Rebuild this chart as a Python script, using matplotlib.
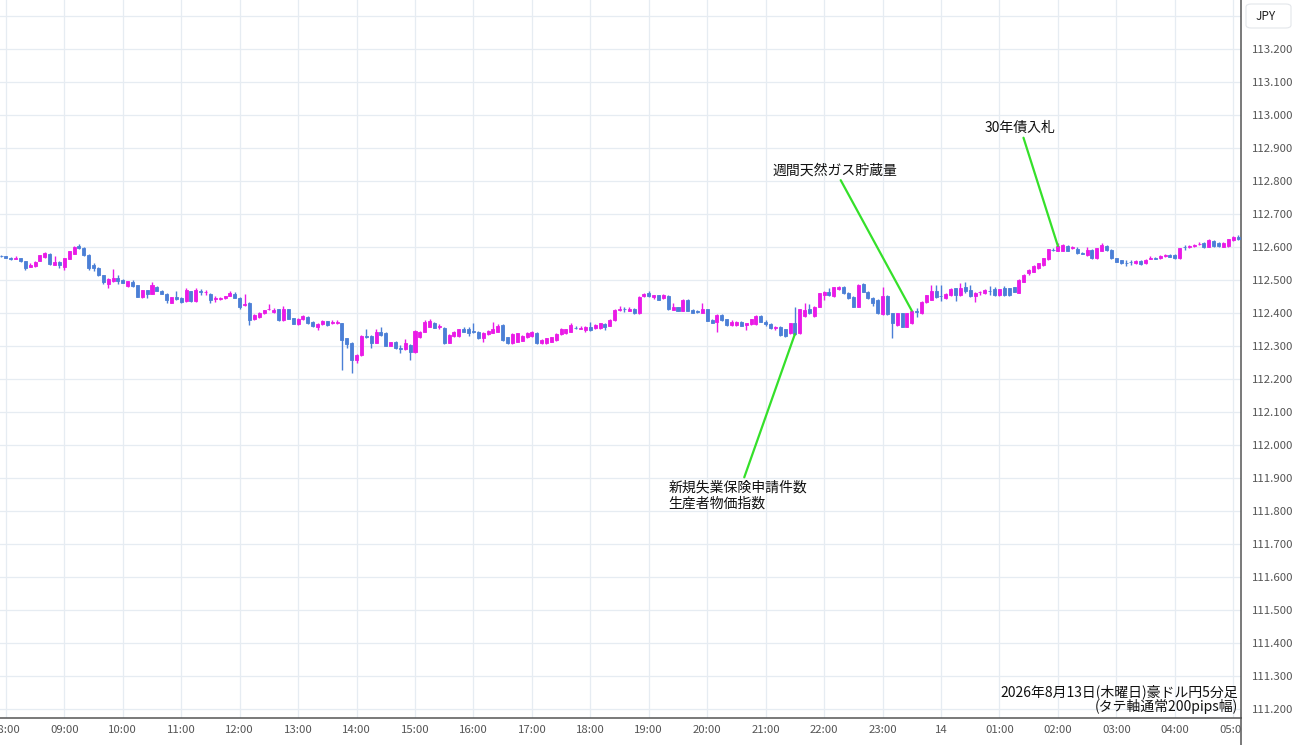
import matplotlib
matplotlib.use("Agg")
import matplotlib.pyplot as plt
from matplotlib.patches import FancyBboxPatch, Rectangle
from matplotlib.lines import Line2D
import pandas as pd

plt.rcParams['font.family'] = ['Noto Sans CJK JP', 'DejaVu Sans']

# AUD/JPY 5 min candles, 2026-08-13 07:55 -> 08-14 05:05
opens = [
    112.574,
    112.572, 112.568, 112.564, 112.566, 112.557, 112.540, 112.541, 112.559, 112.569, 112.580, 112.545, 112.555,  # 08
    112.540, 112.565, 112.580, 112.603, 112.597, 112.577, 112.545, 112.537, 112.514, 112.489, 112.497, 112.506,  # 09
    112.501, 112.482, 112.494, 112.484, 112.448, 112.469, 112.459, 112.479, 112.468, 112.459, 112.431, 112.448,  # 10
    112.445, 112.436, 112.466, 112.436, 112.466, 112.464, 112.459, 112.441, 112.441, 112.444, 112.452, 112.459,  # 11
    112.445, 112.423, 112.430, 112.381, 112.388, 112.400, 112.411, 112.403, 112.411, 112.379, 112.411, 112.384,  # 12
    112.367, 112.381, 112.389, 112.374, 112.357, 112.367, 112.375, 112.369, 112.369, 112.369, 112.323, 112.310,  # 13
    112.258, 112.273, 112.331, 112.330, 112.310, 112.343, 112.340, 112.301, 112.313, 112.295, 112.290, 112.303,  # 14
    112.281, 112.328, 112.343, 112.359, 112.371, 112.359, 112.356, 112.310, 112.330, 112.330, 112.350, 112.350,  # 15
    112.344, 112.342, 112.323, 112.336, 112.340, 112.343, 112.364, 112.326, 112.308, 112.313, 112.316, 112.326,  # 16
    112.330, 112.340, 112.308, 112.308, 112.313, 112.318, 112.336, 112.338, 112.343, 112.356, 112.352, 112.348,  # 17
    112.359, 112.354, 112.354, 112.367, 112.362, 112.379, 112.410, 112.412, 112.407, 112.413, 112.399, 112.450,  # 18
    112.460, 112.447, 112.454, 112.445, 112.452, 112.410, 112.417, 112.407, 112.439, 112.409, 112.405, 112.401,  # 19
    112.411, 112.379, 112.374, 112.394, 112.381, 112.364, 112.364, 112.372, 112.364, 112.367, 112.367, 112.391,  # 20
    112.374, 112.367, 112.354, 112.359, 112.350, 112.338, 112.369, 112.338, 112.391, 112.411, 112.391, 112.419,  # 21
    112.455, 112.465, 112.450, 112.472, 112.480, 112.462, 112.449, 112.419, 112.488, 112.465, 112.444, 112.440,  # 22
    112.397, 112.452, 112.399, 112.364, 112.399, 112.359, 112.369, 112.405, 112.400, 112.434, 112.440, 112.468,  # 23
    112.452, 112.444, 112.455, 112.475, 112.455, 112.480, 112.470, 112.450, 112.463, 112.460, 112.468, 112.472,  # 00
    112.455, 112.475, 112.475, 112.478, 112.462, 112.495, 112.520, 112.525, 112.535, 112.545, 112.563, 112.592,  # 01
    112.589, 112.589, 112.603, 112.598, 112.593, 112.582, 112.576, 112.591, 112.566, 112.589, 112.603, 112.591,  # 02
    112.566, 112.560, 112.553, 112.556, 112.550, 112.558, 112.550, 112.565, 112.567, 112.566, 112.573, 112.576,  # 03
    112.576, 112.566, 112.601, 112.599, 112.603, 112.608, 112.613, 112.601, 112.619, 112.613, 112.601, 112.603,  # 04
    112.621, 112.630,
]
highs = [
    112.575,
    112.574, 112.570, 112.572, 112.568, 112.558, 112.551, 112.557, 112.577, 112.585, 112.582, 112.573, 112.557,
    112.568, 112.589, 112.603, 112.608, 112.599, 112.579, 112.550, 112.539, 112.516, 112.506, 112.532, 112.514,
    112.503, 112.498, 112.500, 112.486, 112.470, 112.471, 112.494, 112.481, 112.470, 112.460, 112.449, 112.466,
    112.447, 112.476, 112.468, 112.476, 112.472, 112.470, 112.461, 112.453, 112.448, 112.452, 112.466, 112.464,
    112.447, 112.458, 112.432, 112.397, 112.402, 112.410, 112.428, 112.414, 112.413, 112.421, 112.413, 112.386,
    112.385, 112.395, 112.391, 112.376, 112.369, 112.379, 112.377, 112.380, 112.380, 112.371, 112.325, 112.312,
    112.275, 112.332, 112.350, 112.332, 112.350, 112.357, 112.342, 112.313, 112.315, 112.303, 112.320, 112.305,
    112.348, 112.345, 112.379, 112.381, 112.373, 112.366, 112.358, 112.335, 112.345, 112.352, 112.359, 112.359,
    112.371, 112.344, 112.342, 112.348, 112.374, 112.366, 112.366, 112.328, 112.338, 112.340, 112.332, 112.342,
    112.345, 112.342, 112.320, 112.325, 112.328, 112.338, 112.355, 112.352, 112.369, 112.360, 112.360, 112.361,
    112.374, 112.366, 112.371, 112.369, 112.381, 112.411, 112.421, 112.419, 112.419, 112.415, 112.451, 112.460,
    112.467, 112.456, 112.456, 112.457, 112.454, 112.431, 112.419, 112.441, 112.441, 112.411, 112.409, 112.429,
    112.413, 112.381, 112.396, 112.396, 112.383, 112.379, 112.376, 112.377, 112.371, 112.383, 112.393, 112.393,
    112.380, 112.369, 112.361, 112.361, 112.352, 112.371, 112.419, 112.413, 112.429, 112.427, 112.421, 112.462,
    112.467, 112.475, 112.480, 112.482, 112.482, 112.464, 112.451, 112.487, 112.490, 112.467, 112.449, 112.442,
    112.480, 112.454, 112.401, 112.401, 112.401, 112.401, 112.409, 112.414, 112.436, 112.456, 112.485, 112.485,
    112.485, 112.461, 112.475, 112.477, 112.490, 112.495, 112.485, 112.464, 112.468, 112.472, 112.481, 112.480,
    112.474, 112.482, 112.477, 112.480, 112.502, 112.517, 112.532, 112.544, 112.552, 112.568, 112.595, 112.597,
    112.611, 112.608, 112.606, 112.603, 112.599, 112.584, 112.599, 112.593, 112.598, 112.611, 112.605, 112.593,
    112.568, 112.562, 112.560, 112.560, 112.560, 112.560, 112.565, 112.573, 112.569, 112.575, 112.578, 112.578,
    112.578, 112.598, 112.607, 112.605, 112.608, 112.614, 112.615, 112.623, 112.621, 112.615, 112.615, 112.625,
    112.633, 112.636,
]
lows = [
    112.571,
    112.566, 112.561, 112.563, 112.555, 112.531, 112.539, 112.539, 112.557, 112.567, 112.546, 112.544, 112.537,
    112.530, 112.563, 112.579, 112.593, 112.574, 112.530, 112.526, 112.512, 112.489, 112.477, 112.495, 112.489,
    112.490, 112.480, 112.480, 112.447, 112.446, 112.445, 112.457, 112.466, 112.457, 112.430, 112.429, 112.439,
    112.431, 112.434, 112.434, 112.434, 112.456, 112.456, 112.431, 112.434, 112.439, 112.442, 112.450, 112.444,
    112.411, 112.421, 112.363, 112.379, 112.386, 112.398, 112.409, 112.401, 112.377, 112.377, 112.381, 112.366,
    112.365, 112.379, 112.366, 112.359, 112.348, 112.365, 112.362, 112.367, 112.367, 112.227, 112.293, 112.219,
    112.247, 112.271, 112.325, 112.293, 112.308, 112.331, 112.299, 112.299, 112.291, 112.280, 112.288, 112.258,
    112.279, 112.323, 112.341, 112.357, 112.354, 112.350, 112.306, 112.308, 112.328, 112.328, 112.341, 112.329,
    112.339, 112.321, 112.313, 112.334, 112.338, 112.341, 112.316, 112.306, 112.306, 112.311, 112.314, 112.324,
    112.328, 112.306, 112.306, 112.306, 112.311, 112.316, 112.334, 112.336, 112.341, 112.352, 112.350, 112.343,
    112.346, 112.352, 112.352, 112.348, 112.360, 112.377, 112.405, 112.404, 112.405, 112.397, 112.397, 112.448,
    112.448, 112.441, 112.438, 112.443, 112.409, 112.408, 112.405, 112.405, 112.405, 112.399, 112.400, 112.399,
    112.375, 112.369, 112.341, 112.377, 112.362, 112.362, 112.362, 112.360, 112.348, 112.365, 112.365, 112.372,
    112.360, 112.352, 112.348, 112.331, 112.328, 112.336, 112.334, 112.336, 112.389, 112.397, 112.389, 112.417,
    112.440, 112.453, 112.448, 112.470, 112.458, 112.442, 112.417, 112.417, 112.463, 112.442, 112.421, 112.397,
    112.395, 112.395, 112.323, 112.362, 112.357, 112.357, 112.367, 112.387, 112.398, 112.429, 112.438, 112.445,
    112.437, 112.442, 112.453, 112.437, 112.453, 112.460, 112.448, 112.434, 112.455, 112.458, 112.456, 112.453,
    112.453, 112.453, 112.453, 112.463, 112.460, 112.493, 112.515, 112.523, 112.533, 112.543, 112.561, 112.587,
    112.587, 112.587, 112.587, 112.593, 112.579, 112.578, 112.574, 112.564, 112.564, 112.587, 112.589, 112.564,
    112.554, 112.548, 112.542, 112.545, 112.548, 112.546, 112.548, 112.563, 112.563, 112.564, 112.571, 112.569,
    112.564, 112.564, 112.592, 112.597, 112.601, 112.606, 112.597, 112.599, 112.601, 112.601, 112.599, 112.601,
    112.619, 112.621,
]
closes = [
    112.572,
    112.568, 112.563, 112.566, 112.557, 112.537, 112.545, 112.555, 112.575, 112.581, 112.547, 112.554, 112.545,
    112.567, 112.587, 112.600, 112.598, 112.575, 112.537, 112.535, 112.514, 112.494, 112.504, 112.506, 112.497,
    112.492, 112.496, 112.482, 112.448, 112.469, 112.459, 112.486, 112.467, 112.459, 112.438, 112.448, 112.441,
    112.433, 112.469, 112.436, 112.469, 112.465, 112.465, 112.438, 112.446, 112.446, 112.451, 112.460, 112.446,
    112.418, 112.427, 112.378, 112.395, 112.400, 112.408, 112.413, 112.410, 112.379, 112.411, 112.383, 112.368,
    112.383, 112.391, 112.369, 112.361, 112.367, 112.377, 112.364, 112.373, 112.374, 112.318, 112.306, 112.258,
    112.273, 112.330, 112.327, 112.310, 112.343, 112.333, 112.301, 112.311, 112.293, 112.291, 112.308, 112.283,
    112.346, 112.343, 112.374, 112.377, 112.356, 112.361, 112.308, 112.333, 112.343, 112.350, 112.343, 112.338,
    112.342, 112.323, 112.340, 112.346, 112.353, 112.361, 112.318, 112.308, 112.336, 112.338, 112.330, 112.340,
    112.343, 112.308, 112.318, 112.323, 112.326, 112.336, 112.350, 112.350, 112.364, 112.355, 112.354, 112.359,
    112.348, 112.364, 112.369, 112.357, 112.379, 112.409, 112.412, 112.411, 112.411, 112.399, 112.449, 112.458,
    112.452, 112.454, 112.440, 112.455, 112.411, 112.417, 112.407, 112.439, 112.407, 112.401, 112.403, 112.411,
    112.377, 112.371, 112.394, 112.379, 112.364, 112.374, 112.374, 112.362, 112.369, 112.381, 112.391, 112.374,
    112.367, 112.354, 112.359, 112.333, 112.330, 112.369, 112.336, 112.411, 112.409, 112.399, 112.419, 112.460,
    112.465, 112.455, 112.478, 112.478, 112.460, 112.444, 112.419, 112.485, 112.465, 112.444, 112.429, 112.399,
    112.452, 112.397, 112.369, 112.399, 112.359, 112.399, 112.407, 112.403, 112.434, 112.454, 112.468, 112.448,
    112.450, 112.459, 112.473, 112.455, 112.475, 112.468, 112.450, 112.462, 112.465, 112.470, 112.466, 112.455,
    112.472, 112.455, 112.455, 112.465, 112.500, 112.515, 112.530, 112.542, 112.550, 112.566, 112.593, 112.591,
    112.603, 112.606, 112.589, 112.600, 112.581, 112.580, 112.591, 112.566, 112.596, 112.606, 112.591, 112.566,
    112.556, 112.550, 112.551, 112.555, 112.558, 112.548, 112.562, 112.567, 112.565, 112.573, 112.576, 112.571,
    112.566, 112.596, 112.599, 112.603, 112.606, 112.610, 112.599, 112.621, 112.603, 112.603, 112.613, 112.623,
    112.631, 112.623,
]

# economic events (candle time, label)
event_times = ['21:30', '23:30', '02:00']
event_labels = ['新規失業保険申請件数\n生産者物価指数', '週間天然ガス貯蔵量', '30年債入札']
event_offsets = [(-41, -116), (-55, 101), (-27, 85)]   # text offset in points

title_lines = ['2026年8月13日(木曜日)豪ドル円5分足', '(タテ軸通常200pips幅)']

UP = '#ea1ae6'
DOWN = '#4b7fd6'
GREEN = '#35e02a'
GRID = '#e6ecf2'
W, H = 1300, 745

times = pd.date_range('2026-08-13 07:55', periods=len(closes), freq='5min')
x = list(range(len(closes)))
cols = [UP if c >= o else DOWN for o, c in zip(opens, closes)]

fig = plt.figure(figsize=(W / 100, H / 100), dpi=100)
ax = fig.add_axes([0, 27 / H, 1241 / W, 718 / H])

ax.vlines(x, lows, highs, colors=cols, lw=1.0, zorder=2)
ax.bar(x, [c - o for o, c in zip(opens, closes)], bottom=opens, width=0.62,
       color=cols, edgecolor=cols, linewidth=0.6, zorder=3)

# axes
ax.set_xlim(-0.21, 254.6)
ax.set_ylim(111.1727, 113.3485)
yt = [round(111.2 + 0.1 * k, 1) for k in range(22)]
ax.set_yticks(yt)
ax.set_yticklabels(['' if v > 113.25 else f'{v:.3f}' for v in yt])
hour_idx = [i for i, t in enumerate(times) if t.minute == 0]
ax.set_xticks(hour_idx)
ax.set_xticklabels([str(times[i].day) if times[i].hour == 0 else times[i].strftime('%H:%M')
                    for i in hour_idx])
ax.yaxis.tick_right()
ax.tick_params(axis='y', length=0, pad=8, labelsize=8.2, labelcolor='#555555')
ax.tick_params(axis='x', length=0, pad=5, labelsize=8.2, labelcolor='#555555')
ax.grid(True, color=GRID, lw=0.9, zorder=0)
ax.set_axisbelow(True)
for s in ['top', 'left']:
    ax.spines[s].set_visible(False)
for s in ['right', 'bottom']:
    ax.spines[s].set_color('#555555')
    ax.spines[s].set_linewidth(1.1)

# event annotations
for t, lab, off in zip(event_times, event_labels, event_offsets):
    i = [k for k, tt in enumerate(times) if tt.strftime('%H:%M') == t][0]
    ax.annotate(lab, xy=(i, closes[i]), xytext=off, textcoords='offset points',
                ha='center', va='center', multialignment='left', fontsize=10, color='#111111',
                arrowprops=dict(arrowstyle='-', color=GREEN, lw=1.6, shrinkA=0, shrinkB=0),
                zorder=5)

# bottom-right caption
fig.text(1238 / W, 1 - 692 / H, title_lines[0], ha='right', va='center', fontsize=10, color='#111111')
fig.text(1238 / W, 1 - 706 / H, title_lines[1], ha='right', va='center', fontsize=10, color='#111111')

# cover corner so the last time label is cut at the price axis
fig.add_artist(Rectangle((1242 / W, 0), 58 / W, 26 / H, transform=fig.transFigure,
                         facecolor='white', edgecolor='none', zorder=10))
fig.add_artist(Line2D([1241 / W, 1241 / W], [0, 27 / H], transform=fig.transFigure,
                      color='#555555', lw=1.1, zorder=11))

# currency box
fig.add_artist(FancyBboxPatch((1246 / W, 1 - 28 / H), 45 / W, 24 / H, transform=fig.transFigure,
                              boxstyle='round,pad=0,rounding_size=0.004', facecolor='white',
                              edgecolor='#e3e6ea', lw=0.8, zorder=10))
fig.text(1266 / W, 1 - 16 / H, 'JPY', ha='center', va='center', fontsize=8.5, color='#222222', zorder=11)

fig.savefig('out.png', dpi=100)
